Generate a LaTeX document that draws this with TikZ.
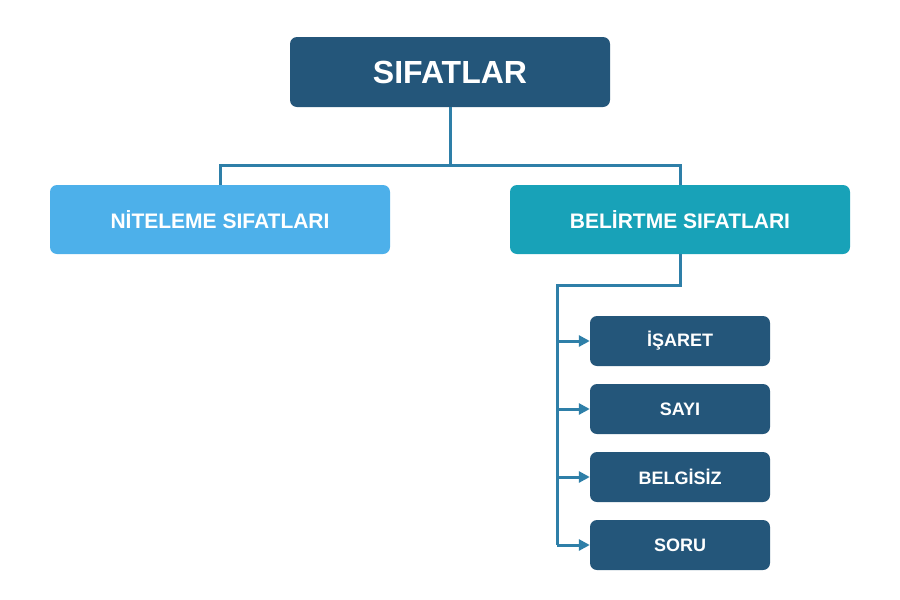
\documentclass[tikz,border=0pt]{standalone}
\usepackage{fontspec}
\setmainfont{Liberation Sans}
\usetikzlibrary{arrows.meta,positioning}
\definecolor{darkblue}{HTML}{24567A}
\definecolor{lightblue}{HTML}{4DB0EA}
\definecolor{tealblue}{HTML}{18A2B8}
\definecolor{linkblue}{HTML}{2E7FA8}
\tikzset{
  box/.style={rounded corners=7pt, text=white, font=\bfseries, inner sep=0pt},
  link/.style={draw=linkblue, line width=3pt},
  arrow/.style={link, -{Triangle[length=11pt,width=11pt]}}
}
\begin{document}
\begin{tikzpicture}[x=1pt,y=-1pt]
  \useasboundingbox (0,0) rectangle (900,600);

  \node[box, fill=darkblue, minimum width=320pt, minimum height=70pt, font=\bfseries\fontsize{32}{36}\selectfont] (root) at (450,72) {SIFATLAR};

  \node[box, fill=lightblue, minimum width=340pt, minimum height=69pt, font=\bfseries\fontsize{21}{25}\selectfont] (nitel) at (220,219.5) {NİTELEME SIFATLARI};
  \node[box, fill=tealblue, minimum width=340pt, minimum height=69pt, font=\bfseries\fontsize{21}{25}\selectfont] (belirt) at (680,219.5) {BELİRTME SIFATLARI};

  % children
  \foreach \name/\txt/\y in {isaret/İŞARET/341, sayi/SAYI/409, belgisiz/BELGİSİZ/477, soru/SORU/545}{
    \node[box, fill=darkblue, minimum width=180pt, minimum height=50pt, font=\bfseries\fontsize{18}{22}\selectfont] (\name) at (680,\y) {\txt};
  }

  \coordinate (split) at (450,165);
  \coordinate (rail) at (557,285);
  \draw[link] (root.south) -- (split);
  \draw[link] (nitel.north) |- (split) -| (belirt.north);
  \draw[link] (belirt.south) |- (rail) -- (rail |- soru);
  \foreach \name in {isaret,sayi,belgisiz,soru}
    \draw[arrow] (rail |- \name) -- (\name.west);
\end{tikzpicture}
\end{document}
